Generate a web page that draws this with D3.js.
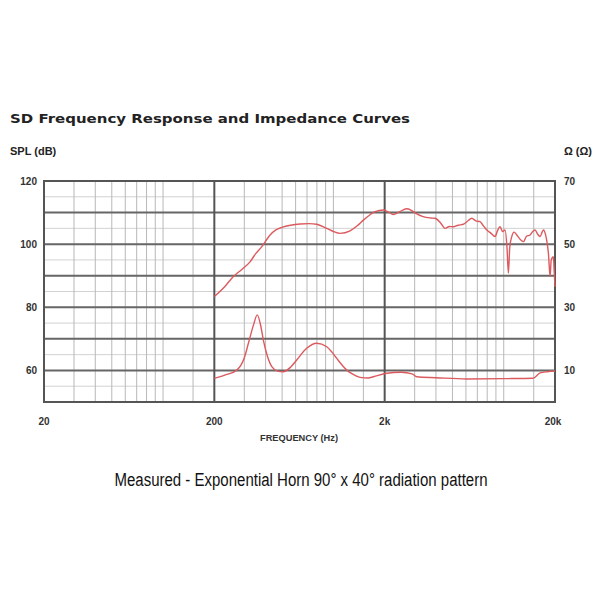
<!DOCTYPE html>
<html><head><meta charset="utf-8">
<script src="https://cdn.jsdelivr.net/npm/d3@7"></script>
<style>body{margin:0;background:#fff}</style>
</head><body>
<svg id="c" width="600" height="600"></svg>
<script>
const titleText = "SD Frequency Response and Impedance Curves";
const leftAxisTitle = "SPL (dB)";
const rightAxisTitle = "Ω (Ω)";
const xAxisTitle = "FREQUENCY (Hz)";
const caption = "Measured - Exponential Horn 90° x 40° radiation pattern";

const xTickValues = [20, 200, 2000, 20000];
const xTickLabels = ["20", "200", "2k", "20k"];
const splTickValues = [120, 100, 80, 60];
const impTickValues = [70, 50, 30, 10];

const splFreq = [200,230,258,290,324,350,380,425,460,498,560,637,720,798,914,1000,1094,1253,1380,1500,1650,1757,1965,2100,2245,2450,2690,2850,3015,3360,3700,3950,4250,4525,4800,5060,5400,5800,6200,6490,6850,7260,7600,7960,8400,8900,9200,9520,9850,10180,10450,10650,10850,11150,11500,11930,12500,13060,13600,14290,14800,15290,15800,16360,16800,17120,17600,18000,18300,18720,19000,19560,19800,20000];
const splDb = [83.4,86.5,89.7,92,94.4,97,99.2,102.9,104.5,105.3,106,106.4,106.5,106.3,105,104,103.4,104.2,105.8,107.6,109.4,110.3,110.8,110.2,109.4,110.3,111.2,110.8,109.9,108.7,108.3,108.2,106.8,105,105.6,105.5,106,106.3,107.5,108.2,107.4,107.1,105.8,104.5,103.5,102.4,104.3,105.5,104,104.5,99,90.8,99,102.4,103.8,102.9,101.5,100.8,102.5,102.9,104,104.5,103.2,102.4,103.8,104.5,103,100.2,97,89.7,95,96,91,86.5];

const impFreq = [200,230,271,300,317,340,357,375,388,410,435,470,508,560,609,697,798,914,980,1047,1120,1198,1300,1433,1600,1717,2057,2500,2900,3085,4000,6070,10000,14860,16340,18000,20000];
const impOhm = [7.5,8.5,10.1,14,18.6,24.5,27.6,24,19.6,14.5,11.2,9.8,9.6,11,13.3,17,18.6,17.5,15.8,13.8,11.8,10.1,8.8,7.8,7.6,8.0,9.1,9.4,8.9,8.0,7.7,7.3,7.4,7.5,9.2,9.6,9.8];

const svg = d3.select("#c");
const x = d3.scaleLog().domain([20, 20000]).range([44, 555]);
const ySpl = d3.scaleLinear().domain([50, 120]).range([402, 181]);
const yImp = d3.scaleLinear().domain([0, 70]).range([402, 181]);

const g = svg.append("g");
const minorH = d3.range(55, 120, 10);
g.selectAll(".hmin").data(minorH).join("line")
  .attr("x1", x(20)).attr("x2", x(20000))
  .attr("y1", d => ySpl(d)).attr("y2", d => ySpl(d))
  .attr("stroke", "#d2d2d2").attr("stroke-width", 1);
const minorV = [];
[10, 100, 1000].forEach(b => [3,4,5,6,7,8,9,10,15].forEach(m => minorV.push(b * m)));
g.selectAll(".vmin").data(minorV).join("line")
  .attr("x1", d => x(d)).attr("x2", d => x(d))
  .attr("y1", ySpl(50)).attr("y2", ySpl(120))
  .attr("stroke", "#b8b8b8").attr("stroke-width", 1);
const majorH = d3.range(60, 120, 10);
g.selectAll(".hmaj").data(majorH).join("line")
  .attr("x1", x(20)).attr("x2", x(20000))
  .attr("y1", d => ySpl(d)).attr("y2", d => ySpl(d))
  .attr("stroke", "#666").attr("stroke-width", 2);
g.selectAll(".vmaj").data([200, 2000]).join("line")
  .attr("x1", d => x(d)).attr("x2", d => x(d))
  .attr("y1", ySpl(50)).attr("y2", ySpl(120))
  .attr("stroke", "#555").attr("stroke-width", 2);
g.append("rect").attr("x", x(20)).attr("y", ySpl(120))
  .attr("width", x(20000) - x(20)).attr("height", ySpl(50) - ySpl(120))
  .attr("fill", "none").attr("stroke", "#555").attr("stroke-width", 2);

const lineSpl = d3.line().x((d, i) => x(splFreq[i])).y(d => ySpl(d)).curve(d3.curveMonotoneX);
const lineImp = d3.line().x((d, i) => x(impFreq[i])).y(d => yImp(d)).curve(d3.curveMonotoneX);
svg.append("path").attr("d", lineSpl(splDb)).attr("fill", "none")
  .attr("stroke", "#dc5a5e").attr("stroke-width", 1.4).attr("stroke-linejoin", "round");
svg.append("path").attr("d", lineImp(impOhm)).attr("fill", "none")
  .attr("stroke", "#dc5a5e").attr("stroke-width", 1.4).attr("stroke-linejoin", "round");

const tickFont = "'Liberation Sans Narrow','Liberation Sans',Arial,sans-serif";
svg.selectAll(".lt").data(splTickValues).join("text")
  .attr("x", 37).attr("y", d => ySpl(d)).attr("dy", "0.35em")
  .attr("text-anchor", "end").attr("font-family", tickFont).attr("font-weight", "bold")
  .attr("font-size", 10).attr("fill", "#333").text(d => d);
svg.selectAll(".rt").data(impTickValues).join("text")
  .attr("x", 564).attr("y", d => yImp(d)).attr("dy", "0.35em")
  .attr("text-anchor", "start").attr("font-family", tickFont).attr("font-weight", "bold")
  .attr("font-size", 10).attr("fill", "#333").text(d => d);
svg.selectAll(".xt").data(xTickValues).join("text")
  .attr("x", (d, i) => x(d) + (i === 3 ? -2 : 0)).attr("y", 425)
  .attr("text-anchor", "middle").attr("font-family", tickFont).attr("font-weight", "bold")
  .attr("font-size", 10).attr("fill", "#333").text((d, i) => xTickLabels[i]);

svg.append("text").attr("x", 10).attr("y", 123)
  .attr("font-family", "'DejaVu Sans',sans-serif").attr("font-weight", "bold")
  .attr("font-size", 13).attr("textLength", 400).attr("lengthAdjust", "spacingAndGlyphs")
  .attr("fill", "#222").text(titleText);
svg.append("text").attr("x", 10).attr("y", 155)
  .attr("font-family", tickFont).attr("font-weight", "bold")
  .attr("font-size", 11).attr("fill", "#222").text(leftAxisTitle);
svg.append("text").attr("x", 592).attr("y", 155).attr("text-anchor", "end")
  .attr("font-family", tickFont).attr("font-weight", "bold")
  .attr("font-size", 11).attr("fill", "#222").text(rightAxisTitle);
svg.append("text").attr("x", 299).attr("y", 441).attr("text-anchor", "middle")
  .attr("font-family", tickFont).attr("font-weight", "bold")
  .attr("font-size", 9).attr("textLength", 78).attr("lengthAdjust", "spacingAndGlyphs")
  .attr("fill", "#333").text(xAxisTitle);
svg.append("text").attr("x", 301).attr("y", 486).attr("text-anchor", "middle")
  .attr("font-family", tickFont)
  .attr("font-size", 18).attr("textLength", 373).attr("lengthAdjust", "spacingAndGlyphs")
  .attr("fill", "#111").text(caption);
</script>
</body></html>
